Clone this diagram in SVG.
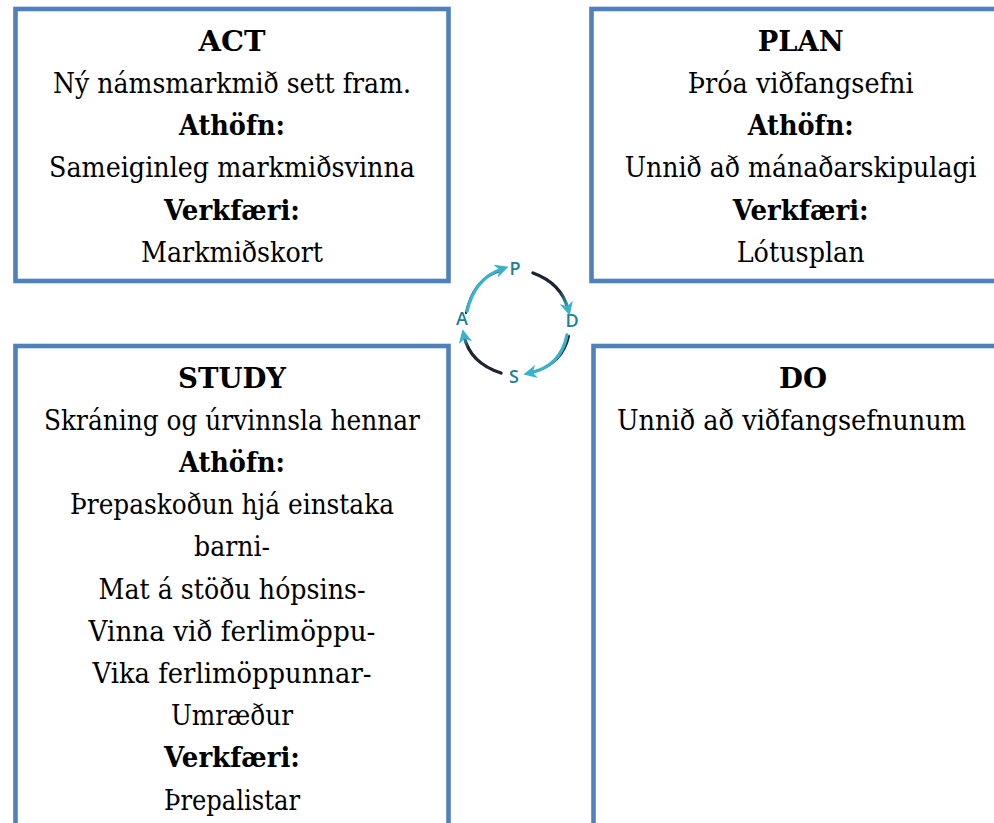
<svg xmlns="http://www.w3.org/2000/svg" width="994" height="823" viewBox="0 0 994 823">
<style>
.box{fill:#fff;stroke:#4F81BD;stroke-width:4.6}
.t{font-family:'DejaVu Serif',serif;font-size:27px;fill:#000}
.b{font-weight:bold}
.c{text-anchor:middle}
.lt{font-family:'Open Sans','Liberation Sans',sans-serif;font-size:18px;font-weight:600;fill:#1A8199;text-anchor:middle}
.arc{fill:none;stroke-width:3.4;stroke-linecap:round}
.dk{fill:none;stroke:#1c2530;stroke-width:2.2;stroke-linecap:round}
</style>
<defs>
<marker id="ah" viewBox="0 0 10 10" refX="5" refY="5" markerWidth="4" markerHeight="4" orient="auto" markerUnits="strokeWidth">
<path d="M0,0 L10,5 L0,10 L3,5 Z" fill="#3AB2CA"/>
</marker>
<linearGradient id="g1" gradientUnits="userSpaceOnUse" x1="533" y1="273" x2="568" y2="310"><stop offset="0" stop-color="#1c2530"/><stop offset="0.6" stop-color="#1c2530"/><stop offset="1" stop-color="#3AB2CA"/></linearGradient>
<linearGradient id="g2" gradientUnits="userSpaceOnUse" x1="500" y1="373" x2="464" y2="334"><stop offset="0" stop-color="#1c2530"/><stop offset="0.75" stop-color="#1c2530"/><stop offset="1" stop-color="#3AB2CA"/></linearGradient>
</defs>
<rect width="994" height="823" fill="#fff"/>

<g id="act" class="t">
<rect class="box" x="15.5" y="9" width="433" height="272"/>
<text class="b c" x="232" y="50.7" textLength="67" lengthAdjust="spacingAndGlyphs">ACT</text>
<text class="c" x="232" y="92.9" textLength="358" lengthAdjust="spacingAndGlyphs">Ný námsmarkmið sett fram.</text>
<text class="b c" x="232" y="135.1" textLength="106" lengthAdjust="spacingAndGlyphs">Athöfn:</text>
<text class="c" x="232" y="177.3" textLength="366" lengthAdjust="spacingAndGlyphs">Sameiginleg markmiðsvinna</text>
<text class="b c" x="232" y="219.5" textLength="136" lengthAdjust="spacingAndGlyphs">Verkfæri:</text>
<text class="c" x="232" y="261.7" textLength="182" lengthAdjust="spacingAndGlyphs">Markmiðskort</text>
</g>

<g id="plan" class="t">
<rect class="box" x="591.5" y="9" width="420" height="272"/>
<text class="b c" x="800.7" y="50.7" textLength="86" lengthAdjust="spacingAndGlyphs">PLAN</text>
<text class="c" x="800.7" y="92.9" textLength="226" lengthAdjust="spacingAndGlyphs">Þróa viðfangsefni</text>
<text class="b c" x="800.7" y="135.1" textLength="106" lengthAdjust="spacingAndGlyphs">Athöfn:</text>
<text class="c" x="800.7" y="177.3" textLength="352" lengthAdjust="spacingAndGlyphs">Unnið að mánaðarskipulagi</text>
<text class="b c" x="800.7" y="219.5" textLength="136" lengthAdjust="spacingAndGlyphs">Verkfæri:</text>
<text class="c" x="800.7" y="261.7" textLength="128" lengthAdjust="spacingAndGlyphs">Lótusplan</text>
</g>

<g id="study" class="t">
<rect class="box" x="15.5" y="346" width="433" height="500"/>
<text class="b c" x="232" y="387.5" textLength="108" lengthAdjust="spacingAndGlyphs">STUDY</text>
<text class="c" x="232" y="429.7" textLength="376" lengthAdjust="spacingAndGlyphs">Skráning og úrvinnsla hennar</text>
<text class="b c" x="232" y="471.9" textLength="106" lengthAdjust="spacingAndGlyphs">Athöfn:</text>
<text class="c" x="232" y="514.1" textLength="324" lengthAdjust="spacingAndGlyphs">Þrepaskoðun hjá einstaka</text>
<text class="c" x="232" y="556.3" textLength="76" lengthAdjust="spacingAndGlyphs">barni-</text>
<text class="c" x="232" y="598.5" textLength="267" lengthAdjust="spacingAndGlyphs">Mat á stöðu hópsins-</text>
<text class="c" x="232" y="640.7" textLength="287" lengthAdjust="spacingAndGlyphs">Vinna við ferlimöppu-</text>
<text class="c" x="232" y="682.9" textLength="279" lengthAdjust="spacingAndGlyphs">Vika ferlimöppunnar-</text>
<text class="c" x="232" y="725.1" textLength="122" lengthAdjust="spacingAndGlyphs">Umræður</text>
<text class="b c" x="232" y="767.3" textLength="136" lengthAdjust="spacingAndGlyphs">Verkfæri:</text>
<text class="c" x="232" y="809.5" textLength="136" lengthAdjust="spacingAndGlyphs">Þrepalistar</text>
</g>

<g id="do" class="t">
<rect class="box" x="593.5" y="346" width="420" height="500"/>
<text class="b c" x="803" y="387.5" textLength="48" lengthAdjust="spacingAndGlyphs">DO</text>
<text x="617" y="429.7" textLength="349" lengthAdjust="spacingAndGlyphs">Unnið að viðfangsefnunum</text>
</g>

<g id="cycle">
<text class="lt" x="515" y="275">P</text>
<text class="lt" x="572" y="327">D</text>
<text class="lt" x="514" y="383">S</text>
<text class="lt" x="462" y="325">A</text>
<g id="connectors">
<path class="dk" d="M466,313 Q473,279 500,271"/>
<path class="arc" stroke="#3AB2CA" d="M467,311 Q475,278 502,269" marker-end="url(#ah)"/>
<path class="arc" stroke="url(#g1)" d="M533,273 Q561,283 568,309" marker-end="url(#ah)"/>
<path class="dk" d="M569,336 Q563,364 533,372"/>
<path class="arc" stroke="#3AB2CA" d="M567,335 Q561,366 530,373" marker-end="url(#ah)"/>
<path class="arc" stroke="url(#g2)" d="M501,373 Q470,363 464,336" marker-end="url(#ah)"/>
</g>
</g>
</svg>
